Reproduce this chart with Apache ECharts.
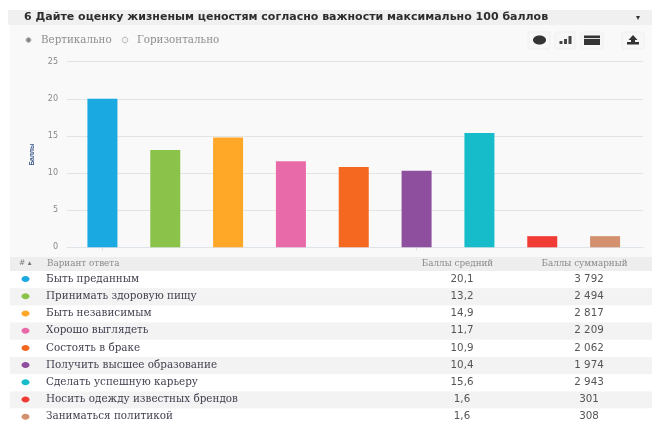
<!DOCTYPE html>
<html><head><meta charset="utf-8">
<style>html,body{margin:0;padding:0;background:#fff}#c{width:652px;height:423px;filter:blur(0.5px)}</style>
<script src="https://cdn.jsdelivr.net/npm/echarts@6/dist/echarts.min.js"></script></head>
<body><div id="c"></div>
<script>
const titleText = '6 Дайте оценку жизненым ценостям согласно важности максимально 100 баллов';
const categories = ['Быть преданным','Принимать здоровую пищу','Быть независимым','Хорошо выглядеть','Состоять в браке','Получить высшее образование','Сделать успешную карьеру','Носить одежду известных брендов','Заниматься политикой'];
const barHeights = [20.0,13.1,14.8,11.6,10.8,10.3,15.4,1.5,1.5];
const averages = ['20,1','13,2','14,9','11,7','10,9','10,4','15,6','1,6','1,6'];
const totals = ['3 792','2 494','2 817','2 209','2 062','1 974','2 943','301','308'];
const colors = ['#1ba9e1','#8bc34a','#ffa726','#e86aa9','#f4691f','#8e4f9e','#17bccb','#f13c35','#d4916f'];
const headers = ['# ▴','Вариант ответа','Баллы средний','Баллы суммарный'];
const orient = ['Вертикально','Горизонтально'];

const serif = '"DejaVu Serif",serif', sans = '"DejaVu Sans",sans-serif';
const g = [];
const rect = (x,y,w,h,fill,extra={}) => g.push({type:'rect',silent:true,shape:{x,y,width:w,height:h,r:extra.r||0},style:{fill,stroke:extra.stroke,lineWidth:extra.lw||0},z:extra.z||0});
const text = (x,y,t,font,fill,align='left') => g.push({type:'text',silent:true,x,y,z:5,style:{text:t,font,fill,align,verticalAlign:'middle'}});
const circ = (cx,cy,rx,ry,fill,stroke) => g.push({type:'ellipse',silent:true,shape:{cx,cy,rx,ry},z:5,style:{fill,stroke,lineWidth:stroke?1:0}});

rect(10,25,642,398,'#f9f9f9');
rect(8,10,644,15,'#f0f0f0');
text(24,17,titleText,'bold 11px '+sans,'#2d2d2d');
text(638,18,'▾','8px '+sans,'#333','center');
circ(28.5,40,2.6,2.6,'#888','#ccc');
text(41,40,orient[0],'10.3px '+serif,'#8d8d8d');
circ(125,40,2.8,2.8,'#f4f4f4','#bbb');
text(137,40,orient[1],'10.3px '+serif,'#8d8d8d');
// toolbar
[[528,22],[555,20],[581,22],[622,22]].forEach(b=>rect(b[0],32,b[1],17,'#f7f7f7',{r:2,stroke:'#efefef',lw:1}));
circ(539.5,40,6.5,4.5,'#333');
[[559.5,41,3,3],[564,39,3,5],[568.5,36,3,8]].forEach(b=>rect(b[0],b[1],b[2],b[3],'#444',{z:5}));
rect(584,35.5,16,9.5,'#333',{z:5}); rect(584,38,16,1,'#ddd',{z:6});
g.push({type:'polygon',silent:true,z:5,shape:{points:[[633,35],[628.5,40],[637.5,40]]},style:{fill:'#333'}});
rect(631,39,4,3,'#333',{z:5});
rect(627,42,12,2.5,'#333',{z:5});

// table
const rowTop = 271, rowH = 17.2;
rect(10,257,642,14,'#eeeeee');
categories.forEach((c,i)=>{
  const y0 = rowTop+i*rowH, cy = y0+rowH/2-0.5;
  rect(10,y0,642,rowH,i%2?'#f3f3f3':'#ffffff');
  circ(25.5,cy,4,3,colors[i]);
  text(46,cy,c,'10.4px '+serif,'#3f3f4e');
  text(462,cy,averages[i],'10.3px '+sans,'#555','center');
  text(589,cy,totals[i],'10.3px '+sans,'#555','center');
});
text(19,263.5,headers[0],'7.5px '+sans,'#777');
text(47,263.5,headers[1],'8.8px '+serif,'#8a8a8a');
text(457.5,263.5,headers[2],'8.8px '+serif,'#8a8a8a','center');
text(584.5,263.5,headers[3],'8.8px '+serif,'#8a8a8a','center');

const yScale = {min:0,max:25,interval:5};
const chart = echarts.init(document.getElementById('c'),null,{renderer:'canvas'});
chart.setOption({
  animation:false,
  backgroundColor:'#fff',
  grid:[
    {left:71,width:565.5,top:61.7,height:185.6},
    {left:67,width:576,top:61.7,height:185.6}
  ],
  xAxis:[
    {type:'category',gridIndex:0,data:categories,axisLabel:{show:false},
     axisLine:{show:false},axisTick:{show:true,alignWithLabel:true,length:3,lineStyle:{color:'#d8dde4'}}},
    {type:'category',gridIndex:1,data:[''],axisLabel:{show:false},axisTick:{show:false},axisLine:{lineStyle:{color:'#dfe3ea',width:1.2}}}
  ],
  yAxis:[
    {type:'value',gridIndex:0,...yScale,show:false,splitLine:{show:false}},
    {type:'value',gridIndex:1,...yScale,
     name:'Баллы',nameLocation:'middle',nameGap:31,nameTextStyle:{color:'#3c5a8a',fontSize:6.5,fontFamily:'"Liberation Sans",sans-serif',fontWeight:'bold'},
     axisLabel:{color:'#888',fontSize:8,margin:9,fontFamily:sans},axisLine:{show:false},axisTick:{show:false},
     splitLine:{lineStyle:{color:'#e4e4e4',width:1.2}}}
  ],
  series:[
    {type:'bar',xAxisIndex:0,yAxisIndex:0,data:barHeights.map((v,i)=>({value:v,itemStyle:{color:colors[i]}})),barWidth:30,z:3}
  ],
  graphic:{elements:g}
});
</script></body></html>
